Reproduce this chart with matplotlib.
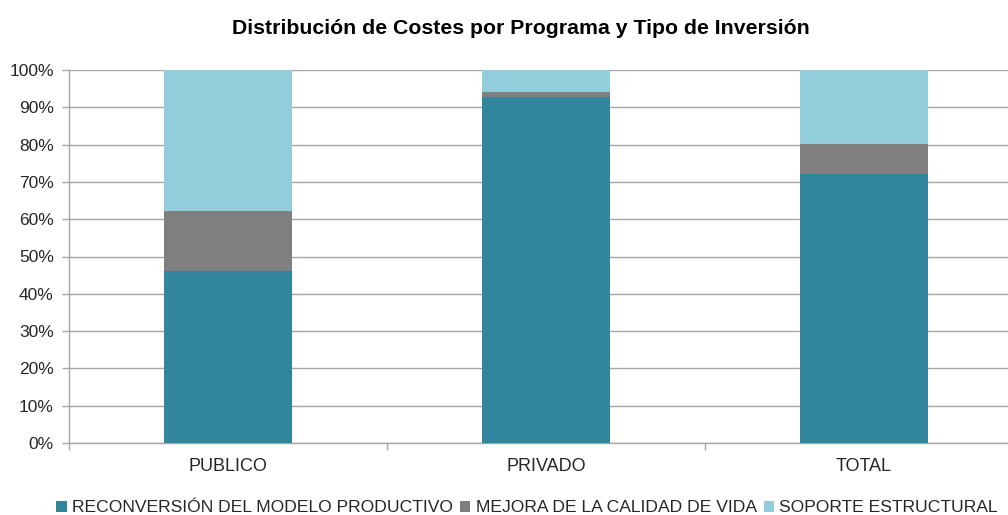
import matplotlib
matplotlib.use("Agg")
import matplotlib.pyplot as plt
from matplotlib.ticker import MultipleLocator, FixedLocator, PercentFormatter
from matplotlib.patches import Patch

plt.rcParams['font.family'] = ['Liberation Sans', 'DejaVu Sans']

categories = ["PUBLICO", "PRIVADO", "TOTAL"]
series_names = ["RECONVERSIÓN DEL MODELO PRODUCTIVO", "MEJORA DE LA CALIDAD DE VIDA", "SOPORTE ESTRUCTURAL"]
reconversion = [46.0, 92.8, 72.0]
mejora = [16.3, 1.3, 8.1]
soporte = [37.7, 5.9, 19.9]
colors = ["#31859C", "#7F7F7F", "#92CDDC"]

fig = plt.figure(figsize=(10.08, 5.15), dpi=100)
W, H = 1008, 515
left, right, top, bottom = 69, 1023, 70, 443
ax = fig.add_axes([left / W, 1 - bottom / H, (right - left) / W, (bottom - top) / H])

x = list(range(len(categories)))
bw = 0.4
base = [0.0] * len(categories)
for vals, col, name in zip([reconversion, mejora, soporte], colors, series_names):
    ax.bar(x, vals, bw, bottom=base, color=col, label=name, zorder=3, linewidth=0)
    base = [b + v for b, v in zip(base, vals)]

ax.set_xlim(-0.5, len(categories) - 0.5)
ax.set_ylim(0, 100)
ax.yaxis.set_major_locator(MultipleLocator(10))
ax.yaxis.set_major_formatter(PercentFormatter(decimals=0))
ax.grid(axis='y', color='#A6A6A6', linewidth=1.0, zorder=0)
ax.set_xticks(x)
ax.set_xticklabels(categories)
ax.xaxis.set_minor_locator(FixedLocator([i + 0.5 for i in range(-1, len(categories))]))
ax.tick_params(axis='x', which='major', length=0, pad=11, labelsize=13, labelcolor='#262626')
ax.tick_params(axis='x', which='minor', length=5, color='#A6A6A6', width=1)
ax.tick_params(axis='y', length=5, color='#A6A6A6', width=1, pad=6, labelsize=12.5, labelcolor='#262626')
for s in ['top', 'right']:
    ax.spines[s].set_visible(False)
for s in ['left', 'bottom']:
    ax.spines[s].set_color('#A6A6A6')
    ax.spines[s].set_linewidth(1)

fig.text(521 / W, 1 - 28 / H, "Distribución de Costes por Programa y Tipo de Inversión",
         ha='center', va='center', fontsize=15.3, fontweight='bold', color='#000000')

handles = [Patch(facecolor=c, edgecolor='none') for c in colors]
fig.legend(handles, series_names, loc='center', bbox_to_anchor=(527 / W, 1 - 508 / H),
           ncol=3, frameon=False, fontsize=12.6, handlelength=0.6, handleheight=0.6,
           handletextpad=0.3, columnspacing=0.4, labelcolor='#262626')

fig.savefig("out.png", dpi=100)
